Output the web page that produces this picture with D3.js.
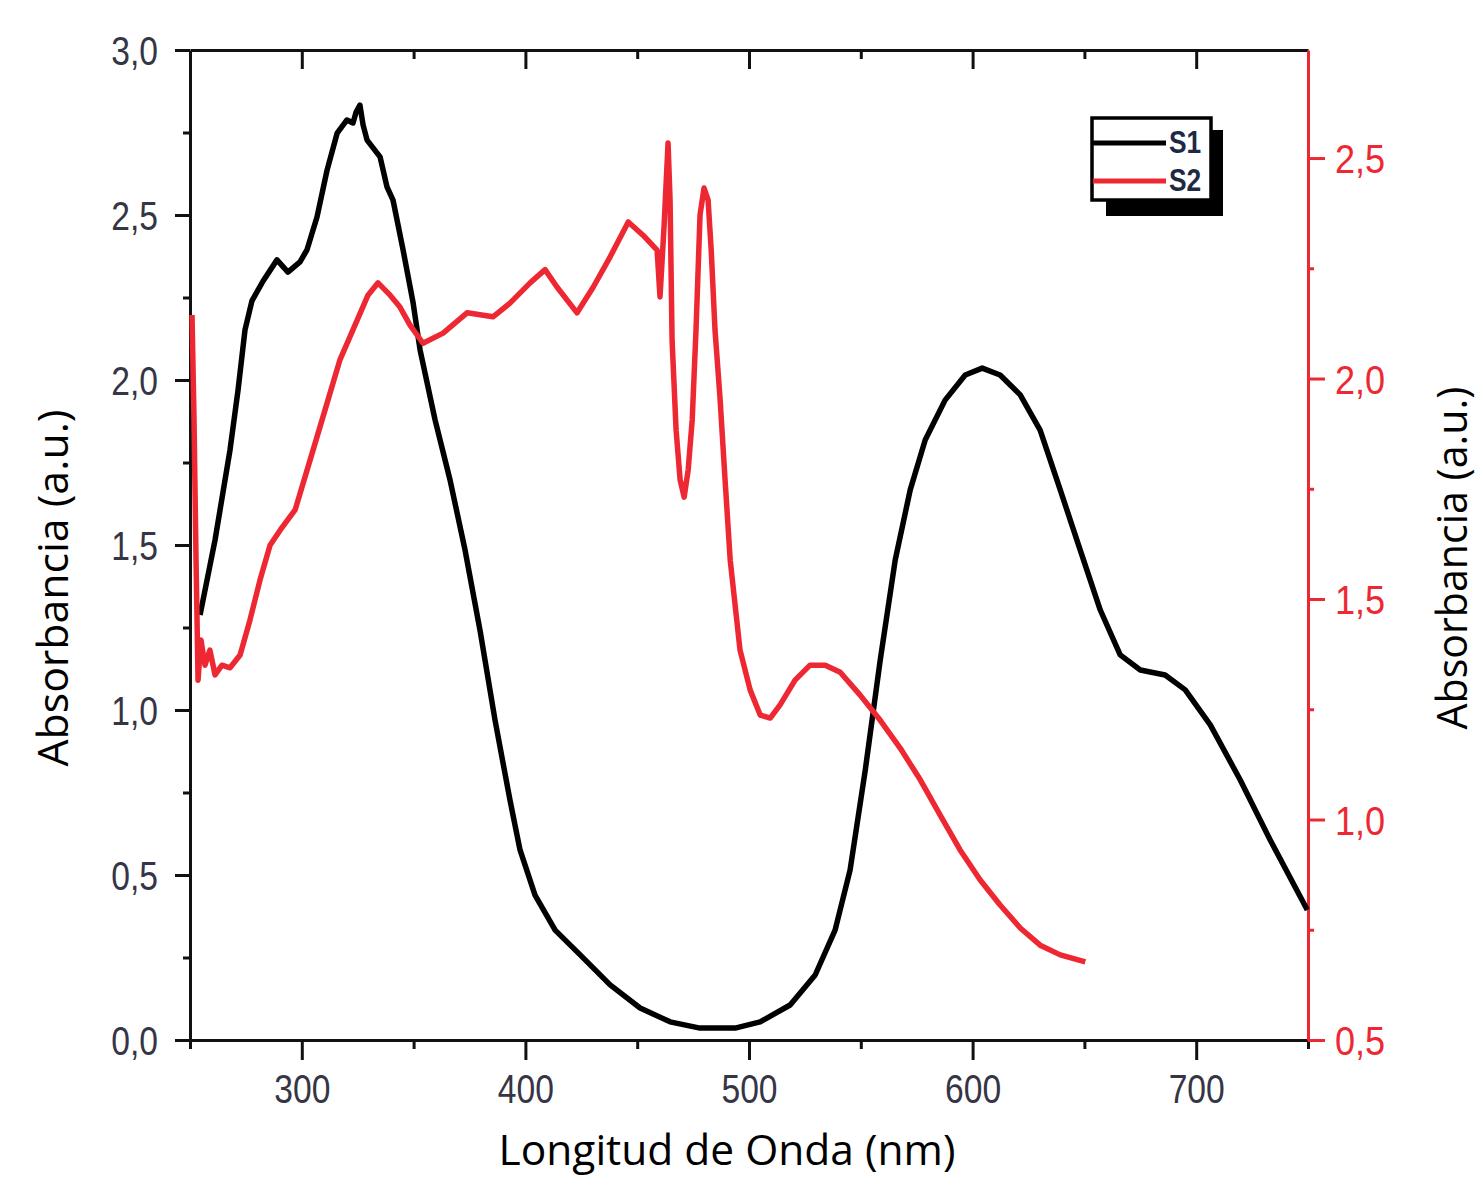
<!DOCTYPE html>
<html>
<head>
<meta charset="utf-8">
<script src="https://cdn.jsdelivr.net/npm/d3@7"></script>
<style>
  html, body { margin: 0; padding: 0; background: #fff; }
  svg { display: block; }
</style>
</head>
<body>
<svg id="chart" width="1484" height="1181"></svg>
<script>
// ---- Data ----
const xTicks = [300, 400, 500, 600, 700];
const xMinor = [250, 350, 450, 550, 650, 750];
const yLeftTicks = [0, 0.5, 1.0, 1.5, 2.0, 2.5, 3.0];
const yLeftMinor = [0.25, 0.75, 1.25, 1.75, 2.25, 2.75];
const yRightTicks = [0.5, 1.0, 1.5, 2.0, 2.5];
const yRightMinor = [0.75, 1.25, 1.75, 2.25];

const s1Wave = [254.5,261.2,267.9,271.5,274.6,277.7,282.7,288.9,293.8,299.2,302.3,306.8,311.3,315.8,320.2,322.9,324.3,326.0,327.4,329.2,335.0,338.1,340.8,345.3,349.8,352.9,359.6,366.3,373.0,379.7,386.4,393.1,397.6,404.3,413.3,424.5,437.9,451.3,464.7,478.1,493.8,505.0,518.4,529.6,538.5,545.2,552.0,558.7,565.4,572.1,578.8,587.7,596.7,604.3,612.3,621.3,630.2,639.2,648.1,657.1,666.0,675.0,686.1,695.1,706.3,719.7,733.1,749.7];
const s1Abs = [1.288,1.515,1.788,1.97,2.152,2.24,2.30,2.364,2.327,2.358,2.394,2.494,2.636,2.748,2.788,2.779,2.812,2.833,2.773,2.727,2.676,2.585,2.545,2.394,2.233,2.091,1.879,1.697,1.485,1.242,0.970,0.727,0.576,0.439,0.333,0.258,0.167,0.097,0.055,0.036,0.036,0.055,0.106,0.197,0.333,0.515,0.818,1.152,1.455,1.667,1.818,1.939,2.015,2.036,2.015,1.955,1.848,1.667,1.485,1.303,1.167,1.121,1.106,1.061,0.955,0.788,0.606,0.394];

const s2Wave = [250.9,251.8,252.7,253.6,254.9,256.7,258.9,261.2,264.3,267.9,272.4,276.8,281.3,285.8,290.3,297.0,303.7,310.4,317.1,323.8,329.6,334.1,339.5,343.9,348.4,354.2,363.2,373.9,385.5,393.1,402.1,408.8,414.2,423.1,430.3,437.9,446.0,452.6,458.9,460.2,462.0,463.8,464.7,465.6,467.4,469.2,471.0,472.8,474.6,476.3,478.1,479.9,481.7,483.1,484.8,487.1,489.3,491.6,496.0,500.5,505.0,509.5,513.9,520.6,527.3,534.1,540.8,549.7,558.7,567.6,576.6,585.5,594.4,603.4,612.3,621.3,630.2,639.2,650.4];
const s2Abs = [2.144,1.906,1.588,1.316,1.407,1.350,1.384,1.328,1.350,1.344,1.373,1.452,1.543,1.622,1.656,1.702,1.815,1.929,2.043,2.121,2.189,2.217,2.189,2.162,2.121,2.080,2.103,2.149,2.140,2.171,2.217,2.247,2.207,2.149,2.207,2.276,2.355,2.325,2.291,2.185,2.344,2.534,2.405,2.087,1.883,1.770,1.731,1.793,1.906,2.110,2.371,2.432,2.405,2.291,2.110,1.951,1.770,1.588,1.384,1.294,1.237,1.230,1.260,1.316,1.350,1.350,1.334,1.282,1.225,1.162,1.090,1.010,0.931,0.863,0.806,0.754,0.715,0.693,0.677];

const seriesNames = ["S1", "S2"];

// ---- Layout ----
const L = 190, R = 1308, T = 50, B = 1040;
const RED = "#ee2833";
const TICKCOL = "#353545";
const svg = d3.select("#chart");

const x = d3.scaleLinear().domain([250, 750]).range([L, R]);
const yL = d3.scaleLinear().domain([0, 3.0]).range([B, T]);
const yR = d3.scaleLinear().domain([0.5, 2.745]).range([B, T]);
const fmt = d => d3.format(".1f")(d).replace(".", ",");

function condense(sel, ratio) {
  sel.each(function() {
    const w = this.getComputedTextLength();
    d3.select(this).attr("textLength", w * ratio).attr("lengthAdjust", "spacingAndGlyphs");
  });
}
function styleAxis(g, col) {
  g.select(".domain").attr("stroke", col).attr("stroke-width", 3);
  g.selectAll(".tick line").attr("stroke", col).attr("stroke-width", 3);
}

// Bottom axis
const gB = svg.append("g").attr("transform", `translate(0,${B})`)
  .call(d3.axisBottom(x).tickValues(xTicks).tickSize(20).tickSizeOuter(0).tickFormat(d => d));
styleAxis(gB, "#111");
gB.selectAll("text").attr("font-family", "Liberation Sans, Arial, sans-serif")
  .attr("font-size", 41).attr("fill", TICKCOL).attr("y", 63).attr("dy", 0);
condense(gB.selectAll("text"), 0.82);
const gBm = svg.append("g").attr("transform", `translate(0,${B})`)
  .call(d3.axisBottom(x).tickValues(xMinor).tickSize(9).tickSizeOuter(0).tickFormat(""));
styleAxis(gBm, "#111"); gBm.select(".domain").remove();

// Top axis (inward ticks)
const gT = svg.append("g").attr("transform", `translate(0,${T})`)
  .call(d3.axisTop(x).tickValues(xTicks).tickSize(-19).tickSizeOuter(0).tickFormat(""));
styleAxis(gT, "#111");
const gTm = svg.append("g").attr("transform", `translate(0,${T})`)
  .call(d3.axisTop(x).tickValues(xMinor.filter(v => v > 250 && v < 750)).tickSize(-9).tickSizeOuter(0).tickFormat(""));
styleAxis(gTm, "#111"); gTm.select(".domain").remove();

// Left axis
const gL = svg.append("g").attr("transform", `translate(${L},0)`)
  .call(d3.axisLeft(yL).tickValues(yLeftTicks).tickSize(15).tickSizeOuter(0).tickPadding(17).tickFormat(fmt));
styleAxis(gL, "#111");
gL.selectAll("text").attr("font-family", "Liberation Sans, Arial, sans-serif")
  .attr("font-size", 41).attr("fill", TICKCOL).attr("dy", "0.36em");
condense(gL.selectAll("text"), 0.82);
const gLm = svg.append("g").attr("transform", `translate(${L},0)`)
  .call(d3.axisLeft(yL).tickValues(yLeftMinor).tickSize(7).tickSizeOuter(0).tickFormat(""));
styleAxis(gLm, "#111"); gLm.select(".domain").remove();

// Right axis (red)
const gR = svg.append("g").attr("transform", `translate(${R},0)`)
  .call(d3.axisRight(yR).tickValues(yRightTicks).tickSize(17).tickSizeOuter(0).tickPadding(10).tickFormat(fmt));
styleAxis(gR, RED);
gR.selectAll("text").attr("font-family", "Liberation Sans, Arial, sans-serif")
  .attr("font-size", 41).attr("fill", RED).attr("dy", "0.36em");
condense(gR.selectAll("text"), 0.88);
const gRm = svg.append("g").attr("transform", `translate(${R},0)`)
  .call(d3.axisRight(yR).tickValues(yRightMinor).tickSize(6).tickSizeOuter(0).tickFormat(""));
styleAxis(gRm, RED); gRm.select(".domain").remove();

// Series
const s1 = s1Wave.map((w, i) => [w, s1Abs[i]]);
const s2 = s2Wave.map((w, i) => [w, s2Abs[i]]);
svg.append("path").datum(s1)
  .attr("d", d3.line().x(d => x(d[0])).y(d => yL(d[1])))
  .attr("fill", "none").attr("stroke", "#000").attr("stroke-width", 5.5).attr("stroke-linejoin", "round");
svg.append("path").datum(s2)
  .attr("d", d3.line().x(d => x(d[0])).y(d => yR(d[1])))
  .attr("fill", "none").attr("stroke", RED).attr("stroke-width", 5.5).attr("stroke-linejoin", "round");

// Axis titles
const tFont = "Open Sans, Noto Sans, sans-serif";
svg.append("text").attr("x", 727).attr("y", 1165).attr("text-anchor", "middle")
  .attr("font-family", tFont).attr("font-size", 42).attr("fill", "#000")
  .attr("textLength", 457).attr("lengthAdjust", "spacingAndGlyphs")
  .text("Longitud de Onda (nm)");
svg.append("text").attr("transform", "translate(68,588) rotate(-90)").attr("text-anchor", "middle")
  .attr("font-family", tFont).attr("font-size", 42).attr("fill", "#000")
  .attr("textLength", 357).attr("lengthAdjust", "spacingAndGlyphs")
  .text("Absorbancia (a.u.)");
svg.append("text").attr("transform", "translate(1467,558) rotate(-90)").attr("text-anchor", "middle")
  .attr("font-family", tFont).attr("font-size", 42).attr("fill", "#000")
  .attr("textLength", 343).attr("lengthAdjust", "spacingAndGlyphs")
  .text("Absorbancia (a.u.)");

// Legend
const lg = svg.append("g");
lg.append("rect").attr("x", 1106).attr("y", 130).attr("width", 117).attr("height", 86).attr("fill", "#000");
lg.append("rect").attr("x", 1092).attr("y", 118).attr("width", 119).attr("height", 82)
  .attr("fill", "#fff").attr("stroke", "#000").attr("stroke-width", 3.5);
const legCols = ["#000", RED];
const legY = [143, 181];
seriesNames.forEach((n, i) => {
  lg.append("line").attr("x1", 1093).attr("x2", 1166).attr("y1", legY[i]).attr("y2", legY[i])
    .attr("stroke", legCols[i]).attr("stroke-width", 5);
  const t = lg.append("text").attr("x", 1169).attr("y", legY[i] + 10)
    .attr("font-family", "Liberation Sans, Arial, sans-serif").attr("font-weight", "bold")
    .attr("font-size", 31).attr("fill", "#1e2a44").text(n);
  condense(t, 0.85);
});
</script>
</body>
</html>
